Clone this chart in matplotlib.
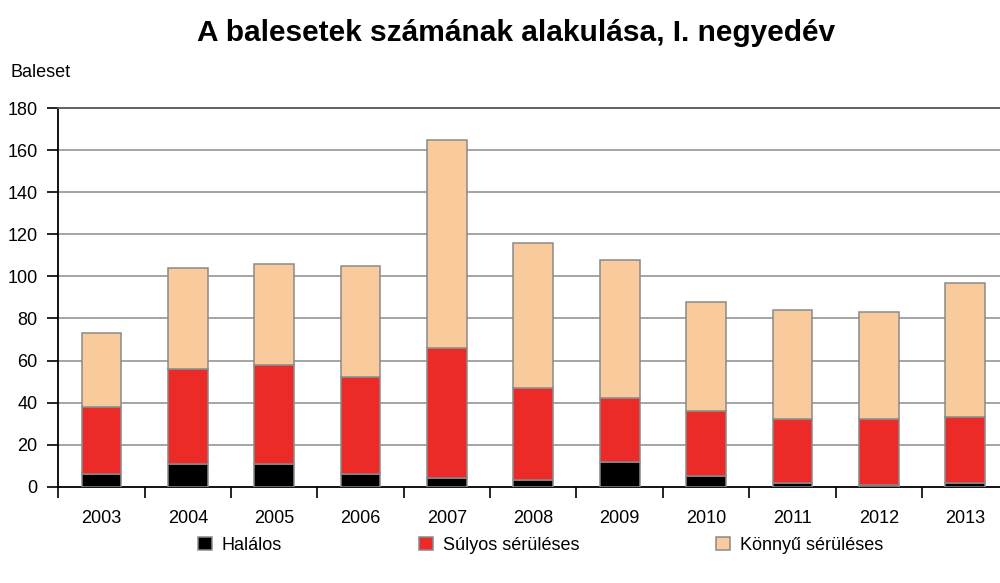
import numpy as np
import matplotlib
matplotlib.use("Agg")
import matplotlib.pyplot as plt
from matplotlib.ticker import FixedLocator

# ---- DATA
years    = ["2003", "2004", "2005", "2006", "2007", "2008", "2009", "2010", "2011", "2012", "2013"]
halalos  = np.array([6, 11, 11, 6, 4, 3, 12, 5, 2, 1, 2])
sulyos   = np.array([32, 45, 47, 46, 62, 44, 30, 31, 30, 31, 31])
konnyu   = np.array([35, 48, 48, 53, 99, 69, 66, 52, 52, 51, 64])

labels   = ["Halálos", "Súlyos sérüléses", "Könnyű sérüléses"]
colors   = ["#000000", "#EC2A28", "#F8CA9C"]
yticks   = [0, 20, 40, 60, 80, 100, 120, 140, 160, 180]

title    = "A balesetek számának alakulása, I. negyedév"
ylab     = "Baleset"

# ---- FONTS
plt.rcParams['font.family'] = ['Liberation Sans', 'DejaVu Sans']

fig = plt.figure(figsize=(10, 5.83), dpi=100)
ax  = fig.add_axes([0.0583, 0.165, 0.950, 0.6496])

x = np.arange(len(years))
edge = "#8a8a8a"
w = 0.46
b1 = ax.bar(x, halalos, w, color=colors[0], edgecolor=edge, linewidth=1.1, label=labels[0], zorder=3)
b2 = ax.bar(x, sulyos, w, bottom=halalos, color=colors[1], edgecolor=edge, linewidth=1.1, label=labels[1], zorder=3)
b3 = ax.bar(x, konnyu, w, bottom=halalos + sulyos, color=colors[2], edgecolor=edge, linewidth=1.1, label=labels[2], zorder=3)

ax.set_xlim(-0.5, len(years) - 0.5)
ax.set_ylim(0, 180)

# gridlines
for yv in yticks[1:-1]:
    ax.axhline(yv, color="#8c8c8c", linewidth=1.1, zorder=1)

# spines
ax.spines["right"].set_visible(False)
ax.spines["top"].set_color("#555555")
ax.spines["top"].set_linewidth(1.3)
ax.spines["left"].set_linewidth(1.3)
ax.spines["bottom"].set_linewidth(1.3)

# ticks
ax.set_yticks(yticks)
ax.tick_params(axis="y", direction="out", length=8, width=1.2, pad=7, labelsize=13)
ax.set_xticks(x)
ax.set_xticklabels(years)
ax.tick_params(axis="x", which="major", length=0, pad=17, labelsize=13)
ax.xaxis.set_minor_locator(FixedLocator(np.arange(-0.5, len(years), 1.0)))
ax.tick_params(axis="x", which="minor", direction="out", length=8, width=1.2)

fig.text(0.516, 0.943, title, ha="center", va="center", fontsize=21.5, fontweight="bold")
fig.text(0.010, 0.875, ylab, ha="left", va="center", fontsize=13)

fig.legend(handles=[b1, b2, b3], labels=labels, loc="center left", bbox_to_anchor=(0.191, 0.065),
           ncol=3, frameon=False, fontsize=13, handlelength=0.75, handleheight=0.75,
           handletextpad=0.55, columnspacing=7.6, borderaxespad=0)

fig.savefig("out.png", dpi=100)
